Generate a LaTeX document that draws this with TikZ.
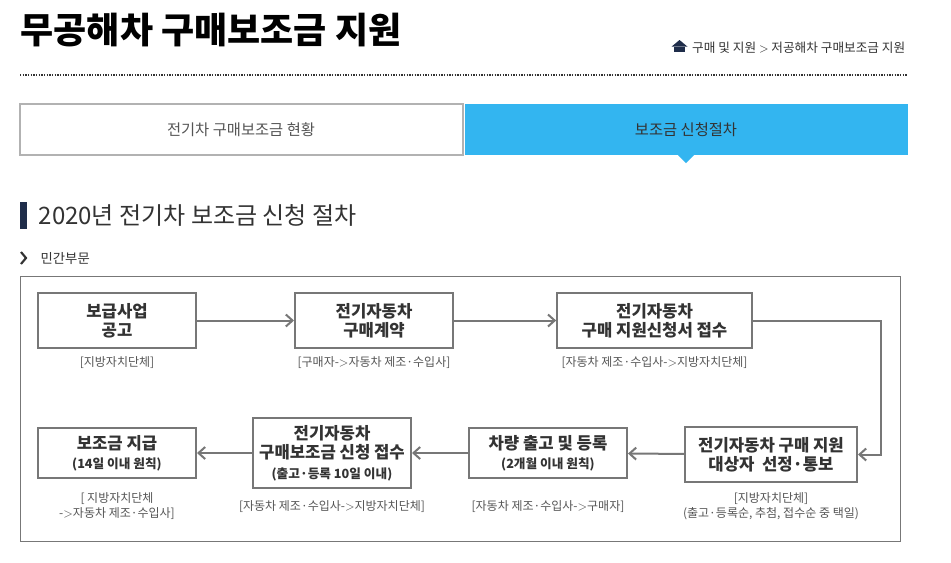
\documentclass[tikz,border=0pt]{standalone}
\usepackage{fontspec}
\setmainfont{Noto Sans CJK KR}
\usetikzlibrary{arrows.meta}
\definecolor{bx}{HTML}{777777}
\definecolor{tx}{HTML}{333333}
\definecolor{lb}{HTML}{555555}
\definecolor{sky}{HTML}{33B5F0}
\definecolor{navy}{HTML}{1F2D4A}
\newcommand{\mysubf}{\bfseries\fontsize{9.5}{11}\selectfont}
\tikzset{
 stepbox/.style={draw=bx,line width=1.5pt,fill=white,align=center,text=tx,font=\bfseries\fontsize{12.5}{14.5}\selectfont,inner sep=0pt},
 lab/.style={align=center,text=lb,font=\fontsize{9}{11.5}\selectfont},
 conn/.style={draw=bx,line width=1.5pt,-{Straight Barb[length=5pt,width=9pt]}}
}
\begin{document}
\begin{tikzpicture}[x=0.75pt,y=-0.75pt]
\useasboundingbox (0,0) rectangle (951,562);
\fill[white] (0,0) rectangle (951,562);
% header
\node[anchor=west,text=black,font=\bfseries\fontsize{27}{31}\selectfont] (title) at (16,30) {무공해차 구매보조금 지원};
\node[anchor=east,text=tx,font=\fontsize{9.5}{11}\selectfont] (crumb) at (910,48) {구매 및 지원 $>$ 저공해차 구매보조금 지원};
\coordinate (hm) at ([xshift=-6pt]crumb.west);
\fill[navy] ([xshift=-4pt,yshift=-3pt]hm) rectangle ([xshift=4pt,yshift=1pt]hm);
\fill[navy] ([xshift=-6pt,yshift=1pt]hm) -- ([yshift=6pt]hm) -- ([xshift=6pt,yshift=1pt]hm) -- cycle;
\draw[densely dotted,line width=1pt,color=tx] (20,75) -- (908,75);
% tabs
\draw[draw=lightgray!80!gray,line width=0.8pt,fill=white] (20,104) rectangle (463,155);
\node[text=lb,font=\fontsize{11.5}{13}\selectfont] (tab1) at (241,130) {전기차 구매보조금 현황};
\fill[sky] (465,104) rectangle (908,155);
\fill[sky] (678,155) -- (694,155) -- (686,163) -- cycle;
\node[text=tx,font=\fontsize{11.5}{13}\selectfont] (tab2) at (686,130) {보조금 신청절차};
% heading
\fill[navy] (20,202) rectangle (27,229);
\node[anchor=west,text=tx,font=\fontsize{18}{22}\selectfont] (h2) at (34,215) {2020년 전기차 보조금 신청 절차};
\draw[line width=1.6pt,color=tx] (21,252) -- (26,258) -- (21,264);
\node[anchor=west,text=tx,font=\fontsize{10}{12}\selectfont] (sec) at (36,258) {민간부문};
\draw[draw=bx,line width=0.7pt] (20,276) rectangle (900,541);
% boxes
\node[stepbox,minimum width=118.5pt,minimum height=41pt] (A) at (117,320.5) {보급사업\\공고};
\node[stepbox,minimum width=118.5pt,minimum height=41pt] (B) at (374,320.5) {전기자동차\\구매계약};
\node[stepbox,minimum width=146pt,minimum height=41pt] (C) at (654.5,320.5) {전기자동차\\구매 지원신청서 접수};
\node[stepbox,minimum width=129pt,minimum height=41pt] (G) at (771,454.5) {전기자동차 구매 지원\\대상자 \ 선정·통보};
\node[stepbox,minimum width=118.5pt,minimum height=37.5pt] (F) at (548,453) {차량 출고 및 등록\\{\mysubf (2개월 이내 원칙)}};
\node[stepbox,minimum width=118.5pt,minimum height=52.5pt] (E) at (332,453) {전기자동차\\구매보조금 신청 접수\\{\mysubf (출고·등록 10일 이내)}};
\node[stepbox,minimum width=118.5pt,minimum height=37.5pt] (D) at (117,453) {보조금 지급\\{\mysubf (14일 이내 원칙)}};
% labels
\node[lab] (la) at (117,363) {[지방자치단체]};
\node[lab] (lb2) at (374,363) {[구매자-$>$자동차 제조·수입사]};
\node[lab] (lc) at (654.5,363) {[자동차 제조·수입사-$>$지방자치단체]};
\node[lab] (lg) at (771,506) {[지방자치단체]\\(출고·등록순, 추첨, 접수순 중 택일)};
\node[lab] (lf) at (548,507) {[자동차 제조·수입사-$>$구매자]};
\node[lab] (le) at (332,507) {[자동차 제조·수입사-$>$지방자치단체]};
\node[lab] (ld) at (117,506) {[ 지방자치단체\\-$>$자동차 제조·수입사]};
% connectors
\draw[conn] (A) -- (B);
\draw[conn] (B) -- (C);
\coordinate (cr) at (881,320.5);
\draw[conn] (C.east) -- (cr) |- (G.east);
\draw[conn] (G) -- (F);
\draw[conn] (F) -- (E);
\draw[conn] (E) -- (D);
\end{tikzpicture}
\end{document}
